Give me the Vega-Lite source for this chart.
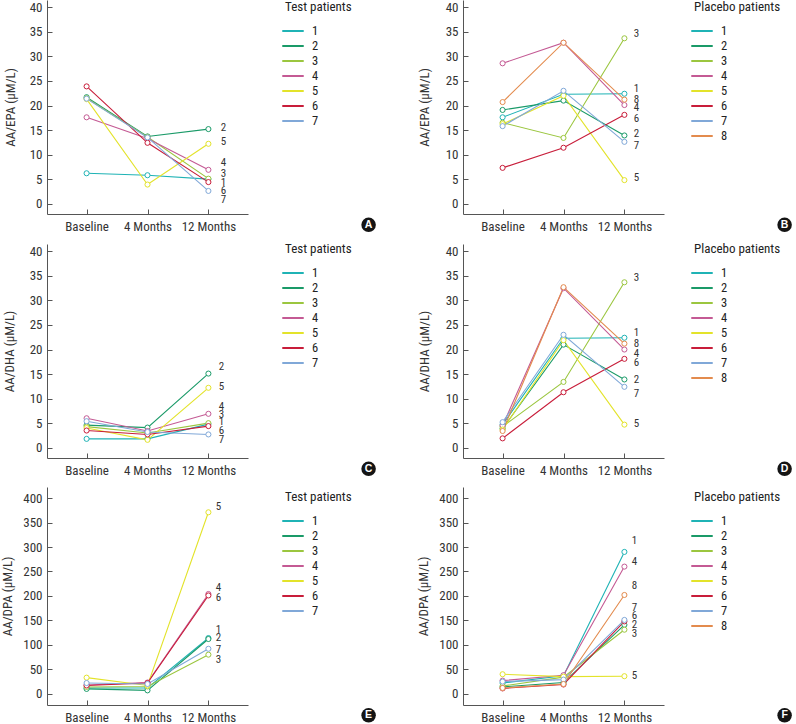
{
"$schema":"https://vega.github.io/schema/vega-lite/v6.json",
"padding":{"left":1,"top":0,"right":0,"bottom":0},
"datasets":{
"pts":[
{"p":"A","id":"1","t":"Baseline","v":6.2},{"p":"A","id":"1","t":"4 Months","v":5.8},{"p":"A","id":"1","t":"12 Months","v":5.0},
{"p":"A","id":"2","t":"Baseline","v":21.7},{"p":"A","id":"2","t":"4 Months","v":13.7},{"p":"A","id":"2","t":"12 Months","v":15.2},
{"p":"A","id":"3","t":"Baseline","v":21.5},{"p":"A","id":"3","t":"4 Months","v":13.6},{"p":"A","id":"3","t":"12 Months","v":5.1},
{"p":"A","id":"4","t":"Baseline","v":17.6},{"p":"A","id":"4","t":"4 Months","v":13.3},{"p":"A","id":"4","t":"12 Months","v":6.9},
{"p":"A","id":"5","t":"Baseline","v":21.3},{"p":"A","id":"5","t":"4 Months","v":3.9},{"p":"A","id":"5","t":"12 Months","v":12.2},
{"p":"A","id":"6","t":"Baseline","v":23.9},{"p":"A","id":"6","t":"4 Months","v":12.4},{"p":"A","id":"6","t":"12 Months","v":4.4},
{"p":"A","id":"7","t":"Baseline","v":21.4},{"p":"A","id":"7","t":"4 Months","v":13.5},{"p":"A","id":"7","t":"12 Months","v":2.6},
{"p":"B","id":"1","t":"Baseline","v":17.6},{"p":"B","id":"1","t":"4 Months","v":22.3},{"p":"B","id":"1","t":"12 Months","v":22.4},
{"p":"B","id":"2","t":"Baseline","v":19.1},{"p":"B","id":"2","t":"4 Months","v":21.0},{"p":"B","id":"2","t":"12 Months","v":13.9},
{"p":"B","id":"3","t":"Baseline","v":16.5},{"p":"B","id":"3","t":"4 Months","v":13.4},{"p":"B","id":"3","t":"12 Months","v":33.7},
{"p":"B","id":"4","t":"Baseline","v":28.6},{"p":"B","id":"4","t":"4 Months","v":32.8},{"p":"B","id":"4","t":"12 Months","v":20.1},
{"p":"B","id":"5","t":"Baseline","v":16.2},{"p":"B","id":"5","t":"4 Months","v":22.0},{"p":"B","id":"5","t":"12 Months","v":4.8},
{"p":"B","id":"6","t":"Baseline","v":7.3},{"p":"B","id":"6","t":"4 Months","v":11.4},{"p":"B","id":"6","t":"12 Months","v":18.1},
{"p":"B","id":"7","t":"Baseline","v":15.8},{"p":"B","id":"7","t":"4 Months","v":23.0},{"p":"B","id":"7","t":"12 Months","v":12.6},
{"p":"B","id":"8","t":"Baseline","v":20.7},{"p":"B","id":"8","t":"4 Months","v":32.8},{"p":"B","id":"8","t":"12 Months","v":21.2},
{"p":"C","id":"1","t":"Baseline","v":1.8},{"p":"C","id":"1","t":"4 Months","v":1.8},{"p":"C","id":"1","t":"12 Months","v":4.8},
{"p":"C","id":"2","t":"Baseline","v":4.6},{"p":"C","id":"2","t":"4 Months","v":4.1},{"p":"C","id":"2","t":"12 Months","v":15.1},
{"p":"C","id":"3","t":"Baseline","v":4.3},{"p":"C","id":"3","t":"4 Months","v":3.0},{"p":"C","id":"3","t":"12 Months","v":5.0},
{"p":"C","id":"4","t":"Baseline","v":6.0},{"p":"C","id":"4","t":"4 Months","v":3.4},{"p":"C","id":"4","t":"12 Months","v":6.9},
{"p":"C","id":"5","t":"Baseline","v":4.0},{"p":"C","id":"5","t":"4 Months","v":1.6},{"p":"C","id":"5","t":"12 Months","v":12.2},
{"p":"C","id":"6","t":"Baseline","v":3.5},{"p":"C","id":"6","t":"4 Months","v":2.7},{"p":"C","id":"6","t":"12 Months","v":4.4},
{"p":"C","id":"7","t":"Baseline","v":5.4},{"p":"C","id":"7","t":"4 Months","v":3.2},{"p":"C","id":"7","t":"12 Months","v":2.7},
{"p":"D","id":"1","t":"Baseline","v":4.7},{"p":"D","id":"1","t":"4 Months","v":22.3},{"p":"D","id":"1","t":"12 Months","v":22.4},
{"p":"D","id":"2","t":"Baseline","v":3.9},{"p":"D","id":"2","t":"4 Months","v":21.0},{"p":"D","id":"2","t":"12 Months","v":13.9},
{"p":"D","id":"3","t":"Baseline","v":4.3},{"p":"D","id":"3","t":"4 Months","v":13.4},{"p":"D","id":"3","t":"12 Months","v":33.7},
{"p":"D","id":"4","t":"Baseline","v":4.5},{"p":"D","id":"4","t":"4 Months","v":32.5},{"p":"D","id":"4","t":"12 Months","v":20.0},
{"p":"D","id":"5","t":"Baseline","v":3.7},{"p":"D","id":"5","t":"4 Months","v":21.9},{"p":"D","id":"5","t":"12 Months","v":4.7},
{"p":"D","id":"6","t":"Baseline","v":1.9},{"p":"D","id":"6","t":"4 Months","v":11.3},{"p":"D","id":"6","t":"12 Months","v":18.1},
{"p":"D","id":"7","t":"Baseline","v":5.2},{"p":"D","id":"7","t":"4 Months","v":23.0},{"p":"D","id":"7","t":"12 Months","v":12.4},
{"p":"D","id":"8","t":"Baseline","v":3.4},{"p":"D","id":"8","t":"4 Months","v":32.7},{"p":"D","id":"8","t":"12 Months","v":21.2},
{"p":"E","id":"1","t":"Baseline","v":12},{"p":"E","id":"1","t":"4 Months","v":12},{"p":"E","id":"1","t":"12 Months","v":114},
{"p":"E","id":"2","t":"Baseline","v":10},{"p":"E","id":"2","t":"4 Months","v":7},{"p":"E","id":"2","t":"12 Months","v":112},
{"p":"E","id":"3","t":"Baseline","v":14},{"p":"E","id":"3","t":"4 Months","v":15},{"p":"E","id":"3","t":"12 Months","v":80},
{"p":"E","id":"4","t":"Baseline","v":18},{"p":"E","id":"4","t":"4 Months","v":23},{"p":"E","id":"4","t":"12 Months","v":204},
{"p":"E","id":"5","t":"Baseline","v":33},{"p":"E","id":"5","t":"4 Months","v":17},{"p":"E","id":"5","t":"12 Months","v":371},
{"p":"E","id":"6","t":"Baseline","v":17},{"p":"E","id":"6","t":"4 Months","v":22},{"p":"E","id":"6","t":"12 Months","v":201},
{"p":"E","id":"7","t":"Baseline","v":22},{"p":"E","id":"7","t":"4 Months","v":20},{"p":"E","id":"7","t":"12 Months","v":92},
{"p":"F","id":"1","t":"Baseline","v":22},{"p":"F","id":"1","t":"4 Months","v":37},{"p":"F","id":"1","t":"12 Months","v":290},
{"p":"F","id":"2","t":"Baseline","v":14},{"p":"F","id":"2","t":"4 Months","v":23},{"p":"F","id":"2","t":"12 Months","v":141},
{"p":"F","id":"3","t":"Baseline","v":16},{"p":"F","id":"3","t":"4 Months","v":34},{"p":"F","id":"3","t":"12 Months","v":131},
{"p":"F","id":"4","t":"Baseline","v":27},{"p":"F","id":"4","t":"4 Months","v":38},{"p":"F","id":"4","t":"12 Months","v":260},
{"p":"F","id":"5","t":"Baseline","v":40},{"p":"F","id":"5","t":"4 Months","v":35},{"p":"F","id":"5","t":"12 Months","v":36},
{"p":"F","id":"6","t":"Baseline","v":11},{"p":"F","id":"6","t":"4 Months","v":19},{"p":"F","id":"6","t":"12 Months","v":148},
{"p":"F","id":"7","t":"Baseline","v":25},{"p":"F","id":"7","t":"4 Months","v":29},{"p":"F","id":"7","t":"12 Months","v":151},
{"p":"F","id":"8","t":"Baseline","v":12},{"p":"F","id":"8","t":"4 Months","v":20},{"p":"F","id":"8","t":"12 Months","v":202}
],
"lab":[
{"p":"A","id":"2","lv":15.5},{"p":"A","id":"5","lv":12.6},{"p":"A","id":"4","lv":8.2},{"p":"A","id":"3","lv":6.0},{"p":"A","id":"1","lv":4.3},{"p":"A","id":"6","lv":2.6},{"p":"A","id":"7","lv":0.8},
{"p":"B","id":"3","lv":34.6},{"p":"B","id":"1","lv":23.4},{"p":"B","id":"8","lv":21.2},{"p":"B","id":"4","lv":19.4},{"p":"B","id":"6","lv":17.3},{"p":"B","id":"2","lv":14.3},{"p":"B","id":"7","lv":11.8},{"p":"B","id":"5","lv":5.2},
{"p":"C","id":"2","lv":16.4},{"p":"C","id":"5","lv":12.4},{"p":"C","id":"4","lv":8.2},{"p":"C","id":"3","lv":6.7},{"p":"C","id":"1","lv":5.2},{"p":"C","id":"6","lv":3.4},{"p":"C","id":"7","lv":1.6},
{"p":"D","id":"3","lv":34.6},{"p":"D","id":"1","lv":23.4},{"p":"D","id":"8","lv":21.2},{"p":"D","id":"4","lv":19.0},{"p":"D","id":"6","lv":17.3},{"p":"D","id":"2","lv":13.7},{"p":"D","id":"7","lv":11.0},{"p":"D","id":"5","lv":4.8},
{"p":"E","id":"5","lv":382},{"p":"E","id":"4","lv":216},{"p":"E","id":"6","lv":196},{"p":"E","id":"1","lv":131},{"p":"E","id":"2","lv":114},{"p":"E","id":"7","lv":90},{"p":"E","id":"3","lv":70},
{"p":"F","id":"1","lv":313},{"p":"F","id":"4","lv":270},{"p":"F","id":"8","lv":221},{"p":"F","id":"7","lv":176},{"p":"F","id":"6","lv":158},{"p":"F","id":"2","lv":140},{"p":"F","id":"3","lv":122},{"p":"F","id":"5","lv":37}
],
"badge":[{"p":"A","b":"A"},{"p":"B","b":"B"},{"p":"C","b":"C"},{"p":"D","b":"D"},{"p":"E","b":"E"},{"p":"F","b":"F"}]
},
"columns":2,
"spacing":{"row":9,"column":41},
"concat":[
{"width":201,"height":214,"resolve":{"scale":{"x":"independent"}},"layer":[
 {"layer":[
  {"data":{"name":"pts"},"transform":[{"filter":"datum.p==='A'"}],"mark":{"type":"line","strokeWidth":1.1,"point":{"filled":false,"fill":"white","size":26,"strokeWidth":1}},
   "encoding":{"x":{"field":"t","type":"ordinal","sort":["Baseline","4 Months","12 Months"],"scale":{"type":"point","padding":0.65},"axis":{"title":null}},
   "y":{"field":"v","type":"quantitative","scale":{"domain":[-2.1,41.5],"nice":false,"zero":false},"axis":{"title":"AA/EPA (μM/L)","values":[0,5,10,15,20,25,30,35,40],"labelOverlap":false,"titlePadding":12}},
   "color":{"field":"id","type":"nominal","scale":{"domain":["1","2","3","4","5","6","7"],"range":["#1fb3b5","#1a9a68","#9bc63f","#c45a94","#e3e32a","#c81d3a","#80a8d8"]},"legend":{"title":"Test patients","orient":"none","legendX":238,"legendY":1}}}},
  {"data":{"name":"lab"},"transform":[{"filter":"datum.p==='A'"}],"mark":{"type":"text","dx":15,"fontSize":11,"color":"#333"},
   "encoding":{"x":{"datum":"12 Months","type":"ordinal"},"y":{"field":"lv","type":"quantitative","axis":{"title":"AA/EPA (μM/L)","values":[0,5,10,15,20,25,30,35,40],"labelOverlap":false,"titlePadding":12}},"text":{"field":"id"}}}
 ]},
 {"data":{"name":"badge"},"transform":[{"filter":"datum.p==='A'"}],"layer":[
  {"mark":{"type":"point","shape":"circle","filled":true,"color":"#141414","size":210,"opacity":1},"encoding":{"x":{"datum":1.6,"type":"quantitative","scale":{"domain":[0,1]},"axis":null},"y":{"datum":-4.3,"type":"quantitative","axis":{"title":"AA/EPA (μM/L)","values":[0,5,10,15,20,25,30,35,40],"labelOverlap":false,"titlePadding":12}}}},
  {"mark":{"type":"text","color":"white","fontWeight":"bold","fontSize":10.5,"font":"Liberation Sans"},"encoding":{"x":{"datum":1.6,"type":"quantitative","scale":{"domain":[0,1]},"axis":null},"y":{"datum":-4.3,"type":"quantitative","axis":{"title":"AA/EPA (μM/L)","values":[0,5,10,15,20,25,30,35,40],"labelOverlap":false,"titlePadding":12}},"text":{"field":"b"}}}
 ]}
]},
{"width":201,"height":214,"resolve":{"scale":{"x":"independent"}},"layer":[
 {"layer":[
  {"data":{"name":"pts"},"transform":[{"filter":"datum.p==='B'"}],"mark":{"type":"line","strokeWidth":1.1,"point":{"filled":false,"fill":"white","size":26,"strokeWidth":1}},
   "encoding":{"x":{"field":"t","type":"ordinal","sort":["Baseline","4 Months","12 Months"],"scale":{"type":"point","padding":0.65},"axis":{"title":null}},
   "y":{"field":"v","type":"quantitative","scale":{"domain":[-2.1,41.5],"nice":false,"zero":false},"axis":{"title":"AA/EPA (μM/L)","values":[0,5,10,15,20,25,30,35,40],"labelOverlap":false,"titlePadding":14}},
   "color":{"field":"id","type":"nominal","scale":{"domain":["1","2","3","4","5","6","7","8"],"range":["#1fb3b5","#1a9a68","#9bc63f","#c45a94","#e3e32a","#c81d3a","#80a8d8","#e38b4e"]},"legend":{"title":"Placebo patients","orient":"none","legendX":231,"legendY":1}}}},
  {"data":{"name":"lab"},"transform":[{"filter":"datum.p==='B'"}],"mark":{"type":"text","dx":12,"fontSize":11,"color":"#333"},
   "encoding":{"x":{"datum":"12 Months","type":"ordinal"},"y":{"field":"lv","type":"quantitative","axis":{"title":"AA/EPA (μM/L)","values":[0,5,10,15,20,25,30,35,40],"labelOverlap":false,"titlePadding":14}},"text":{"field":"id"}}}
 ]},
 {"data":{"name":"badge"},"transform":[{"filter":"datum.p==='B'"}],"layer":[
  {"mark":{"type":"point","shape":"circle","filled":true,"color":"#141414","size":210,"opacity":1},"encoding":{"x":{"datum":1.6,"type":"quantitative","scale":{"domain":[0,1]},"axis":null},"y":{"datum":-4.3,"type":"quantitative","axis":{"title":"AA/EPA (μM/L)","values":[0,5,10,15,20,25,30,35,40],"labelOverlap":false,"titlePadding":14}}}},
  {"mark":{"type":"text","color":"white","fontWeight":"bold","fontSize":10.5,"font":"Liberation Sans"},"encoding":{"x":{"datum":1.6,"type":"quantitative","scale":{"domain":[0,1]},"axis":null},"y":{"datum":-4.3,"type":"quantitative","axis":{"title":"AA/EPA (μM/L)","values":[0,5,10,15,20,25,30,35,40],"labelOverlap":false,"titlePadding":14}},"text":{"field":"b"}}}
 ]}
]},
{"width":201,"height":214,"resolve":{"scale":{"x":"independent"}},"layer":[
 {"layer":[
  {"data":{"name":"pts"},"transform":[{"filter":"datum.p==='C'"}],"mark":{"type":"line","strokeWidth":1.1,"point":{"filled":false,"fill":"white","size":26,"strokeWidth":1}},
   "encoding":{"x":{"field":"t","type":"ordinal","sort":["Baseline","4 Months","12 Months"],"scale":{"type":"point","padding":0.65},"axis":{"title":null}},
   "y":{"field":"v","type":"quantitative","scale":{"domain":[-2.1,41.5],"nice":false,"zero":false},"axis":{"title":"AA/DHA (μM/L)","values":[0,5,10,15,20,25,30,35,40],"labelOverlap":false,"titlePadding":13}},
   "color":{"field":"id","type":"nominal","scale":{"domain":["1","2","3","4","5","6","7"],"range":["#1fb3b5","#1a9a68","#9bc63f","#c45a94","#e3e32a","#c81d3a","#80a8d8"]},"legend":{"title":"Test patients","orient":"none","legendX":238,"legendY":-1}}}},
  {"data":{"name":"lab"},"transform":[{"filter":"datum.p==='C'"}],"mark":{"type":"text","dx":13,"fontSize":11,"color":"#333"},
   "encoding":{"x":{"datum":"12 Months","type":"ordinal"},"y":{"field":"lv","type":"quantitative","axis":{"title":"AA/DHA (μM/L)","values":[0,5,10,15,20,25,30,35,40],"labelOverlap":false,"titlePadding":13}},"text":{"field":"id"}}}
 ]},
 {"data":{"name":"badge"},"transform":[{"filter":"datum.p==='C'"}],"layer":[
  {"mark":{"type":"point","shape":"circle","filled":true,"color":"#141414","size":210,"opacity":1},"encoding":{"x":{"datum":1.6,"type":"quantitative","scale":{"domain":[0,1]},"axis":null},"y":{"datum":-4.3,"type":"quantitative","axis":{"title":"AA/DHA (μM/L)","values":[0,5,10,15,20,25,30,35,40],"labelOverlap":false,"titlePadding":13}}}},
  {"mark":{"type":"text","color":"white","fontWeight":"bold","fontSize":10.5,"font":"Liberation Sans"},"encoding":{"x":{"datum":1.6,"type":"quantitative","scale":{"domain":[0,1]},"axis":null},"y":{"datum":-4.3,"type":"quantitative","axis":{"title":"AA/DHA (μM/L)","values":[0,5,10,15,20,25,30,35,40],"labelOverlap":false,"titlePadding":13}},"text":{"field":"b"}}}
 ]}
]},
{"width":201,"height":214,"resolve":{"scale":{"x":"independent"}},"layer":[
 {"layer":[
  {"data":{"name":"pts"},"transform":[{"filter":"datum.p==='D'"}],"mark":{"type":"line","strokeWidth":1.1,"point":{"filled":false,"fill":"white","size":26,"strokeWidth":1}},
   "encoding":{"x":{"field":"t","type":"ordinal","sort":["Baseline","4 Months","12 Months"],"scale":{"type":"point","padding":0.65},"axis":{"title":null}},
   "y":{"field":"v","type":"quantitative","scale":{"domain":[-2.1,41.5],"nice":false,"zero":false},"axis":{"title":"AA/DHA (μM/L)","values":[0,5,10,15,20,25,30,35,40],"labelOverlap":false,"titlePadding":14}},
   "color":{"field":"id","type":"nominal","scale":{"domain":["1","2","3","4","5","6","7","8"],"range":["#1fb3b5","#1a9a68","#9bc63f","#c45a94","#e3e32a","#c81d3a","#80a8d8","#e38b4e"]},"legend":{"title":"Placebo patients","orient":"none","legendX":231,"legendY":-1}}}},
  {"data":{"name":"lab"},"transform":[{"filter":"datum.p==='D'"}],"mark":{"type":"text","dx":12,"fontSize":11,"color":"#333"},
   "encoding":{"x":{"datum":"12 Months","type":"ordinal"},"y":{"field":"lv","type":"quantitative","axis":{"title":"AA/DHA (μM/L)","values":[0,5,10,15,20,25,30,35,40],"labelOverlap":false,"titlePadding":14}},"text":{"field":"id"}}}
 ]},
 {"data":{"name":"badge"},"transform":[{"filter":"datum.p==='D'"}],"layer":[
  {"mark":{"type":"point","shape":"circle","filled":true,"color":"#141414","size":210,"opacity":1},"encoding":{"x":{"datum":1.6,"type":"quantitative","scale":{"domain":[0,1]},"axis":null},"y":{"datum":-4.3,"type":"quantitative","axis":{"title":"AA/DHA (μM/L)","values":[0,5,10,15,20,25,30,35,40],"labelOverlap":false,"titlePadding":14}}}},
  {"mark":{"type":"text","color":"white","fontWeight":"bold","fontSize":10.5,"font":"Liberation Sans"},"encoding":{"x":{"datum":1.6,"type":"quantitative","scale":{"domain":[0,1]},"axis":null},"y":{"datum":-4.3,"type":"quantitative","axis":{"title":"AA/DHA (μM/L)","values":[0,5,10,15,20,25,30,35,40],"labelOverlap":false,"titlePadding":14}},"text":{"field":"b"}}}
 ]}
]},
{"width":201,"height":218,"resolve":{"scale":{"x":"independent"}},"layer":[
 {"layer":[
  {"data":{"name":"pts"},"transform":[{"filter":"datum.p==='E'"}],"mark":{"type":"line","strokeWidth":1.1,"point":{"filled":false,"fill":"white","size":26,"strokeWidth":1}},
   "encoding":{"x":{"field":"t","type":"ordinal","sort":["Baseline","4 Months","12 Months"],"scale":{"type":"point","padding":0.65},"axis":{"title":null}},
   "y":{"field":"v","type":"quantitative","scale":{"domain":[-22.9,422.7],"nice":false,"zero":false},"axis":{"title":"AA/DPA (μM/L)","values":[0,50,100,150,200,250,300,350,400],"labelOverlap":false}},
   "color":{"field":"id","type":"nominal","scale":{"domain":["1","2","3","4","5","6","7"],"range":["#1fb3b5","#1a9a68","#9bc63f","#c45a94","#e3e32a","#c81d3a","#80a8d8"]},"legend":{"title":"Test patients","orient":"none","legendX":238,"legendY":4}}}},
  {"data":{"name":"lab"},"transform":[{"filter":"datum.p==='E'"}],"mark":{"type":"text","dx":10,"fontSize":11,"color":"#333"},
   "encoding":{"x":{"datum":"12 Months","type":"ordinal"},"y":{"field":"lv","type":"quantitative","axis":{"title":"AA/DPA (μM/L)","values":[0,50,100,150,200,250,300,350,400],"labelOverlap":false}},"text":{"field":"id"}}}
 ]},
 {"data":{"name":"badge"},"transform":[{"filter":"datum.p==='E'"}],"layer":[
  {"mark":{"type":"point","shape":"circle","filled":true,"color":"#141414","size":210,"opacity":1},"encoding":{"x":{"datum":1.6,"type":"quantitative","scale":{"domain":[0,1]},"axis":null},"y":{"datum":-44,"type":"quantitative","axis":{"title":"AA/DPA (μM/L)","values":[0,50,100,150,200,250,300,350,400],"labelOverlap":false}}}},
  {"mark":{"type":"text","color":"white","fontWeight":"bold","fontSize":10.5,"font":"Liberation Sans"},"encoding":{"x":{"datum":1.6,"type":"quantitative","scale":{"domain":[0,1]},"axis":null},"y":{"datum":-44,"type":"quantitative","axis":{"title":"AA/DPA (μM/L)","values":[0,50,100,150,200,250,300,350,400],"labelOverlap":false}},"text":{"field":"b"}}}
 ]}
]},
{"width":201,"height":218,"resolve":{"scale":{"x":"independent"}},"layer":[
 {"layer":[
  {"data":{"name":"pts"},"transform":[{"filter":"datum.p==='F'"}],"mark":{"type":"line","strokeWidth":1.1,"point":{"filled":false,"fill":"white","size":26,"strokeWidth":1}},
   "encoding":{"x":{"field":"t","type":"ordinal","sort":["Baseline","4 Months","12 Months"],"scale":{"type":"point","padding":0.65},"axis":{"title":null}},
   "y":{"field":"v","type":"quantitative","scale":{"domain":[-22.9,422.7],"nice":false,"zero":false},"axis":{"title":"AA/DPA (μM/L)","values":[0,50,100,150,200,250,300,350,400],"labelOverlap":false}},
   "color":{"field":"id","type":"nominal","scale":{"domain":["1","2","3","4","5","6","7","8"],"range":["#1fb3b5","#1a9a68","#9bc63f","#c45a94","#e3e32a","#c81d3a","#80a8d8","#e38b4e"]},"legend":{"title":"Placebo patients","orient":"none","legendX":231,"legendY":4}}}},
  {"data":{"name":"lab"},"transform":[{"filter":"datum.p==='F'"}],"mark":{"type":"text","dx":10,"fontSize":11,"color":"#333"},
   "encoding":{"x":{"datum":"12 Months","type":"ordinal"},"y":{"field":"lv","type":"quantitative","axis":{"title":"AA/DPA (μM/L)","values":[0,50,100,150,200,250,300,350,400],"labelOverlap":false}},"text":{"field":"id"}}}
 ]},
 {"data":{"name":"badge"},"transform":[{"filter":"datum.p==='F'"}],"layer":[
  {"mark":{"type":"point","shape":"circle","filled":true,"color":"#141414","size":210,"opacity":1},"encoding":{"x":{"datum":1.6,"type":"quantitative","scale":{"domain":[0,1]},"axis":null},"y":{"datum":-44,"type":"quantitative","axis":{"title":"AA/DPA (μM/L)","values":[0,50,100,150,200,250,300,350,400],"labelOverlap":false}}}},
  {"mark":{"type":"text","color":"white","fontWeight":"bold","fontSize":10.5,"font":"Liberation Sans"},"encoding":{"x":{"datum":1.6,"type":"quantitative","scale":{"domain":[0,1]},"axis":null},"y":{"datum":-44,"type":"quantitative","axis":{"title":"AA/DPA (μM/L)","values":[0,50,100,150,200,250,300,350,400],"labelOverlap":false}},"text":{"field":"b"}}}
 ]}
]}
],
"resolve":{"scale":{"color":"independent","y":"independent"},"legend":{"color":"independent"}},
"config":{
 "font":"Liberation Sans Narrow, Roboto Condensed, DejaVu Sans Condensed, sans-serif",
 "view":{"stroke":null},
 "axis":{"grid":false,"domainColor":"#555","tickColor":"#555","labelColor":"#333","titleColor":"#333","labelFontSize":13,"titleFontSize":13,"titleFontWeight":"normal","tickSize":-5},
 "axisX":{"labelPadding":11.5,"labelAngle":0},
 "axisY":{"labelPadding":10,"titlePadding":8},
 "legend":{"titleFontSize":13,"titleFontWeight":"normal","titleColor":"#222","labelFontSize":12.5,"labelColor":"#222","symbolType":"M-1.6,0H1.6","symbolStrokeWidth":2,"symbolSize":180,"rowPadding":-1.8,"titlePadding":9,"labelOffset":11}
}
}
